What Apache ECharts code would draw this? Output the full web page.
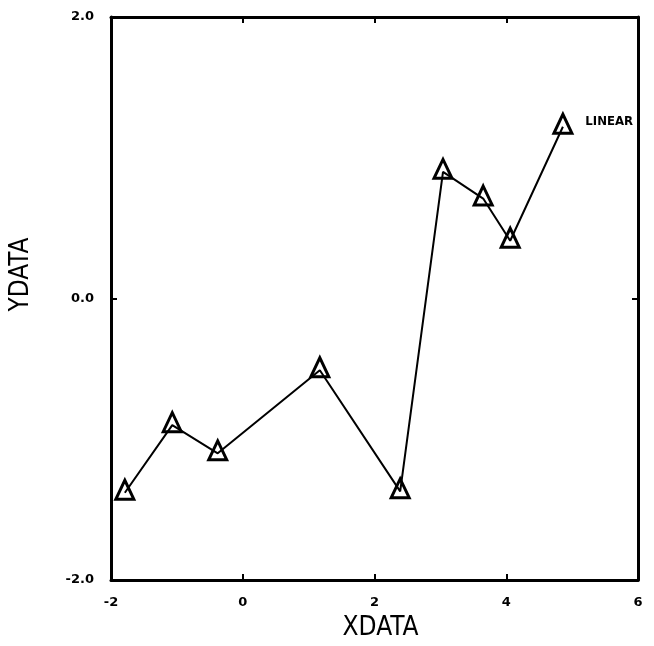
<!DOCTYPE html>
<html>
<head>
<meta charset="utf-8">
<script src="https://cdn.jsdelivr.net/npm/echarts@6/dist/echarts.min.js"></script>
<style>
html,body{margin:0;padding:0;background:#fff;}
#chart{width:654px;height:646px;}
</style>
</head>
<body>
<div id="chart"></div>
<script>
const xValues = [-1.79, -1.07, -0.38, 1.17, 2.39, 3.04, 3.65, 4.06, 4.86];
const yValues = [-1.38, -0.90, -1.10, -0.51, -1.37, 0.90, 0.71, 0.41, 1.22];
const seriesName = 'LINEAR';
const xTicks = [-2, 0, 2, 4, 6];
const yTicks = [-2.0, 0.0, 2.0];
const xTitle = 'XDATA';
const yTitle = 'YDATA';

const points = xValues.map((x, i) => [x, yValues[i]]);
const lastIdx = points.length - 1;

const chart = echarts.init(document.getElementById('chart'), null, {renderer: 'canvas'});
const labelFont = {color: '#000', fontFamily: 'DejaVu Sans', fontWeight: 'bold', fontSize: 13};
const nameFont = {color: '#000', fontFamily: "'Liberation Sans Narrow', 'DejaVu Sans Condensed', sans-serif", fontSize: 26};
const frame = {show: true, onZero: false, lineStyle: {color: '#000', width: 3}};
const ticks = {show: true, inside: true, length: 6, lineStyle: {color: '#000', width: 2}};

chart.setOption({
  animation: false,
  backgroundColor: '#fff',
  grid: {left: 111, right: 16, top: 17, bottom: 62, containLabel: false},
  xAxis: [
    {
      type: 'value', position: 'bottom',
      min: xTicks[0], max: xTicks[xTicks.length - 1], interval: 2,
      axisLine: frame, axisTick: ticks, splitLine: {show: false},
      axisLabel: Object.assign({margin: 16, formatter: v => String(v)}, labelFont),
      name: xTitle, nameLocation: 'middle', nameGap: 35,
      nameTextStyle: Object.assign({padding: [0, 0, 0, 12]}, nameFont)
    },
    {
      type: 'value', position: 'top',
      min: xTicks[0], max: xTicks[xTicks.length - 1], interval: 2,
      axisLine: frame, axisTick: ticks, splitLine: {show: false},
      axisLabel: {show: false}
    }
  ],
  yAxis: [
    {
      type: 'value', position: 'left',
      min: yTicks[0], max: yTicks[yTicks.length - 1], interval: 2,
      axisLine: frame, axisTick: ticks, splitLine: {show: false},
      axisLabel: Object.assign({margin: 17, formatter: v => v.toFixed(1)}, labelFont),
      name: yTitle, nameLocation: 'middle', nameGap: 77,
      nameTextStyle: Object.assign({padding: [0, 0, 0, 48]}, nameFont)
    },
    {
      type: 'value', position: 'right',
      min: yTicks[0], max: yTicks[yTicks.length - 1], interval: 2,
      axisLine: frame, axisTick: ticks, splitLine: {show: false},
      axisLabel: {show: false}
    }
  ],
  series: [{
    name: seriesName,
    type: 'line',
    data: points.map((p, i) => i === lastIdx ? {
      value: p,
      label: {
        show: true, position: 'right', distance: 12,
        formatter: seriesName, color: '#000',
        fontFamily: "'Liberation Sans Narrow', 'DejaVu Sans Condensed', sans-serif",
        fontWeight: 'bold', fontSize: 13, offset: [0, -2]
      }
    } : p),
    symbol: 'triangle',
    symbolSize: [18, 19],
    symbolOffset: [0, -3],
    lineStyle: {color: '#000', width: 2},
    itemStyle: {color: 'rgba(255,255,255,0)', borderColor: '#000', borderWidth: 3},
    z: 3
  }]
});
</script>
</body>
</html>
